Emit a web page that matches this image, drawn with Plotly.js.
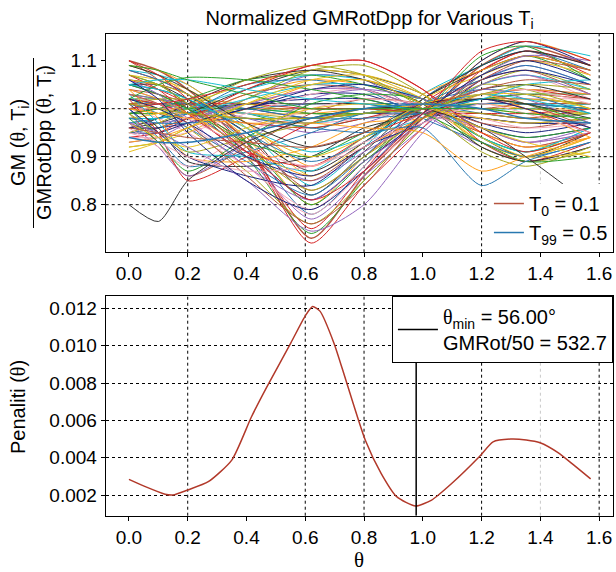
<!DOCTYPE html>
<html>
<head>
<meta charset="utf-8">
<script src="https://cdn.plot.ly/plotly-3.0.1.min.js"></script>
<style>html,body{margin:0;padding:0;background:#fff;}#chart{width:616px;height:572px;}</style>
</head>
<body>
<div id="chart"></div>
<script>
// ---------- data ----------
const thetaT = [0.00, 0.10, 0.20, 0.40, 0.62, 0.80, 1.00, 1.20, 1.35, 1.57];

const normGM = [
  [1.10,1.08,1.04,0.93,0.73,0.86,0.98,1.09,1.13,1.09],
  [1.08,1.06,1.03,0.92,0.75,0.87,1.01,1.08,1.12,1.07],
  [1.07,1.05,1.01,0.90,0.74,0.85,0.97,1.07,1.11,1.06],
  [1.05,1.04,1.02,0.93,0.78,0.88,1.02,1.09,1.12,1.08],
  [1.09,1.07,1.03,0.94,0.80,0.90,0.99,1.10,1.14,1.10],
  [1.04,1.02,0.99,0.90,0.77,0.86,0.96,1.06,1.09,1.05],
  [1.06,1.05,1.02,0.95,0.82,0.91,1.02,1.08,1.11,1.08],
  [1.03,1.01,0.97,0.88,0.79,0.88,0.99,1.07,1.10,1.07],
  [1.08,1.07,1.05,0.96,0.84,0.92,1.03,1.09,1.13,1.11],
  [1.02,1.00,0.96,0.87,0.76,0.85,0.97,1.05,1.08,1.04],
  [1.05,1.03,1.00,0.91,0.81,0.89,0.98,1.10,1.14,1.09],
  [1.07,1.06,1.04,0.97,0.86,0.93,1.02,1.07,1.10,1.07],
  [1.04,1.03,1.01,0.94,0.83,0.90,1.00,1.06,1.08,1.03],
  [1.06,1.04,1.01,0.92,0.72,0.84,0.96,1.08,1.12,1.09],
  [1.03,1.02,1.00,0.93,0.80,0.89,0.99,1.11,1.13,1.06],
  [1.01,0.99,0.96,0.89,0.82,0.90,1.01,1.06,1.09,1.05],
  [1.09,1.08,1.05,0.97,0.88,0.94,1.03,1.08,1.11,1.08],
  [1.02,1.01,0.99,0.92,0.85,0.91,0.98,1.07,1.11,1.10],
  [1.05,1.05,1.03,0.95,0.87,0.93,1.02,1.09,1.12,1.09],
  [1.00,0.98,0.95,0.88,0.78,0.87,0.97,1.05,1.07,1.02],
  [1.01,1.01,1.00,1.00,0.99,0.99,1.00,1.01,1.01,1.01],
  [1.00,1.00,1.00,0.99,0.98,0.99,1.01,1.01,1.02,1.01],
  [1.02,1.01,1.01,1.00,0.98,0.99,0.99,1.02,1.02,1.01],
  [0.99,0.99,0.99,1.00,1.00,1.00,1.00,1.00,0.99,0.99],
  [1.01,1.00,0.99,0.98,0.97,0.99,1.01,1.02,1.03,1.02],
  [1.00,1.00,1.01,1.01,1.00,1.00,0.99,0.99,0.99,1.00],
  [1.02,1.02,1.01,0.99,0.96,0.98,1.00,1.02,1.03,1.03],
  [0.98,0.98,0.99,1.00,1.01,1.01,1.01,0.99,0.98,0.99],
  [1.01,1.01,1.00,0.99,0.99,1.00,1.00,1.01,1.00,1.00],
  [1.03,1.02,1.01,0.98,0.95,0.97,1.01,1.03,1.04,1.03],
  [0.99,1.00,1.00,1.01,1.01,1.01,0.99,0.98,0.97,0.98],
  [1.00,1.00,1.00,0.99,0.97,0.98,1.00,1.01,1.02,1.02],
  [1.02,1.01,1.00,0.99,0.97,0.99,1.01,1.00,1.00,1.01],
  [1.01,1.02,1.02,1.01,0.99,0.99,1.00,1.00,1.00,0.99],
  [0.97,0.98,0.99,1.01,1.02,1.02,0.99,0.98,0.97,0.97],
  [1.00,0.99,0.99,0.98,0.98,0.99,1.01,1.02,1.02,1.01],
  [1.01,1.01,1.01,1.00,1.00,1.00,1.00,1.00,1.01,1.01],
  [1.02,1.01,0.99,0.97,0.96,0.98,1.01,1.03,1.04,1.02],
  [0.99,0.99,1.00,1.00,0.99,0.99,1.00,1.01,1.01,1.00],
  [1.00,1.01,1.01,1.00,0.98,0.98,0.99,1.01,1.01,1.00],
  [0.95,0.96,0.98,1.03,1.06,1.05,1.01,0.93,0.90,0.94],
  [0.93,0.94,0.97,1.02,1.07,1.06,0.99,0.92,0.89,0.92],
  [0.96,0.97,0.99,1.04,1.08,1.07,1.03,0.94,0.90,0.95],
  [0.94,0.95,0.97,1.01,1.04,1.04,1.00,0.95,0.92,0.95],
  [0.97,0.98,1.00,1.04,1.07,1.06,1.02,0.94,0.91,0.96],
  [0.92,0.93,0.96,1.02,1.08,1.09,1.03,0.92,0.89,0.91],
  [0.95,0.95,0.97,1.00,1.03,1.03,0.99,0.96,0.94,0.96],
  [0.98,0.99,1.01,1.05,1.08,1.07,1.02,0.93,0.90,0.94],
  [0.96,0.96,0.98,1.03,1.05,1.04,1.00,0.95,0.92,0.95],
  [0.94,0.95,0.98,1.04,1.09,1.10,1.04,0.93,0.89,0.93],
  [0.99,1.00,1.02,1.06,1.07,1.05,1.01,0.94,0.91,0.95],
  [0.95,0.96,0.99,1.05,1.06,1.04,0.98,0.93,0.90,0.93],
  [0.93,0.94,0.96,1.00,1.05,1.06,1.02,0.95,0.92,0.94],
  [0.97,0.97,0.98,1.01,1.04,1.04,1.00,0.96,0.93,0.96],
  [0.96,0.98,1.01,1.06,1.08,1.06,1.01,0.92,0.89,0.92],
  [0.94,0.94,0.95,0.99,1.03,1.04,0.99,0.96,0.93,0.95],
  [0.98,0.98,0.99,1.02,1.05,1.05,1.02,0.94,0.91,0.96],
  [0.95,0.97,1.00,1.06,1.09,1.07,1.00,0.91,0.88,0.92],
  [0.96,0.96,0.97,1.00,1.04,1.05,1.02,0.97,0.95,0.97],
  [0.92,0.93,0.95,1.01,1.06,1.07,1.03,0.94,0.90,0.91],
  [0.99,0.93,0.86,0.92,0.99,1.02,1.01,0.97,0.96,0.98],
  [1.02,0.95,0.85,0.90,0.97,1.00,0.99,0.99,0.98,1.00],
  [0.98,0.93,0.87,0.94,1.01,1.03,1.02,0.96,0.94,0.96],
  [1.00,0.94,0.88,0.91,0.95,0.99,0.99,1.01,1.01,1.00],
  [1.04,0.98,0.90,0.89,0.92,0.97,0.98,1.03,1.04,1.03],
  [0.97,0.92,0.86,0.93,1.02,1.04,1.02,0.96,0.93,0.95],
  [1.01,0.96,0.89,0.88,0.90,0.96,0.99,1.04,1.05,1.02],
  [0.96,0.92,0.88,0.95,1.00,1.02,1.01,0.98,0.96,0.97],
  [1.03,0.97,0.91,0.90,0.87,0.94,0.98,1.05,1.07,1.04],
  [0.99,0.95,0.91,0.94,0.97,1.00,1.00,0.99,0.98,0.99],
  [1.00,0.95,0.90,0.86,0.84,0.92,0.97,1.06,1.08,1.05],
  [0.97,0.94,0.92,0.96,1.00,1.01,1.00,0.98,0.97,0.98],
  [1.10,1.06,1.00,0.90,0.85,0.92,0.98,1.03,1.01,0.96],
  [1.07,1.04,0.99,0.91,0.88,0.94,0.99,1.02,1.00,0.95],
  [1.05,1.03,1.00,0.93,0.90,0.95,1.00,1.02,1.01,0.97],
  [1.08,1.06,1.03,0.95,0.89,0.93,1.01,1.04,1.03,0.99],
  [1.04,1.02,0.99,0.92,0.86,0.92,0.98,1.03,1.00,0.94],
  [1.06,1.03,0.98,0.88,0.81,0.89,0.97,1.04,1.02,0.97],
  [1.09,1.07,1.04,0.97,0.92,0.95,1.01,1.02,1.01,0.98],
  [1.03,1.01,0.98,0.92,0.88,0.93,0.97,1.01,0.99,0.95],
  [1.05,1.04,1.02,0.96,0.91,0.94,1.00,1.03,1.02,0.99],
  [1.07,1.05,1.01,0.92,0.83,0.90,0.98,1.05,1.04,1.00],
  [1.02,1.00,0.97,0.90,0.86,0.92,0.99,1.02,1.00,0.96],
  [1.06,1.05,1.03,0.96,0.90,0.94,1.01,1.03,1.03,1.00],
  [1.03,1.01,0.97,0.86,0.76,0.84,0.98,1.06,1.10,1.08],
  [1.00,1.01,1.02,1.05,1.09,1.10,1.04,0.95,0.91,0.95],
  [1.02,1.05,1.065,1.06,1.04,1.02,0.99,0.93,0.89,0.90],
  [0.98,0.97,0.97,0.98,0.96,0.95,0.96,0.84,0.89,0.93],
  [1.00,0.99,0.98,0.97,0.97,0.96,0.95,0.87,0.90,0.94],
  [0.97,0.95,0.92,0.85,0.745,0.80,0.95,1.05,1.07,1.03],
  [0.80,0.765,0.85,0.93,0.98,1.00,1.00,0.96,0.90,0.80],
  [0.95,0.93,0.90,0.87,0.88,0.92,0.99,1.03,1.04,1.01],
  [1.05,1.06,1.06,1.04,1.02,1.01,1.00,1.02,1.05,1.06],
  [1.01,1.00,0.99,0.98,0.98,0.99,1.00,1.03,1.05,1.04],
  [1.06,1.02,0.95,0.85,0.79,0.87,0.99,1.07,1.10,1.06],
  [0.91,0.93,0.96,1.01,1.05,1.06,1.01,0.96,0.93,0.90],
  [0.96,0.95,0.94,0.93,0.92,0.95,1.00,1.04,1.06,1.05],
  [1.10,1.07,1.02,0.91,0.81,0.87,0.99,1.12,1.14,1.10],
  [1.09,1.08,1.06,1.03,1.00,1.00,1.00,1.00,0.99,0.98],
  [0.94,0.93,0.93,0.95,0.98,1.00,1.01,1.00,0.98,0.97]
];
const legendPeriods = [0.1, 0.5];   // T0 and T99

const thetaP = [0.0, 0.06, 0.123, 0.15, 0.2, 0.27, 0.35, 0.417, 0.468, 0.551, 0.60, 0.625, 0.65, 0.698, 0.738, 0.804, 0.858, 0.911, 0.9755, 1.03, 1.099, 1.192, 1.239, 1.299, 1.352, 1.399, 1.46, 1.513, 1.571];
const penalty = [0.00284, 0.00242, 0.00204, 0.00200, 0.00227, 0.00271, 0.00387, 0.00619, 0.00775, 0.01015, 0.0116, 0.0121, 0.01185, 0.01012, 0.00816, 0.00495, 0.00316, 0.00191, 0.00141, 0.00173, 0.00263, 0.00405, 0.00485, 0.00500, 0.00495, 0.00480, 0.00427, 0.00361, 0.00286];

const thetaMinDeg = 56.00;
const gmRot50 = 532.7;

// ---------- style ----------
const palette = ['#b5553f','#d62728','#2ca02c','#2878b0','#ff9f1c','#9467bd','#333333','#f4a7b9','#17becf','#a6a81e','#1a237e','#e8c020'];
const FONT = 'Liberation Sans, Arial, sans-serif';
const SERIF = 'Liberation Serif, Times New Roman, serif';
const th = '<span style="font-family:' + SERIF + '">θ</span>';
const xRange = [-0.079, 1.647];
const yTopRange = [0.7008, 1.1556];
const yBotRange = [0.00089, 0.01266];
const gridX = [0.2, 0.6, 0.8, 1.2, 1.6];
const faintGridX = [1.4];
const gridYTop = [0.8, 0.9, 1.0];

const traces = [];
const last = normGM.length - 1;
normGM.forEach((row, i) => {
  const shown = (i === 0 || i === last);
  traces.push({
    x: thetaT, y: row, type: 'scatter', mode: 'lines',
    xaxis: 'x', yaxis: 'y',
    line: {color: palette[i % palette.length], width: shown ? 1.5 : 1, shape: 'spline', smoothing: 0.7},
    name: 'T<sub>' + i + '</sub>' + (shown ? ' = ' + (i === 0 ? legendPeriods[0] : legendPeriods[1]) : ''),
    showlegend: shown, legend: 'legend', hoverinfo: 'skip'
  });
});

const thetaMinRad = thetaMinDeg * Math.PI / 180;
traces.push({
  x: thetaP, y: penalty, type: 'scatter', mode: 'lines',
  xaxis: 'x2', yaxis: 'y2', line: {color: '#b2392a', width: 1.5, shape: 'spline', smoothing: 0.6},
  name: 'Penalty', showlegend: false, hoverinfo: 'skip'
});
traces.push({
  x: [thetaMinRad, thetaMinRad], y: yBotRange, type: 'scatter', mode: 'lines',
  xaxis: 'x2', yaxis: 'y2', line: {color: '#000', width: 1.5},
  name: th + '<sub>min</sub> = ' + thetaMinDeg.toFixed(2) + '°<br>GMRot/50 = ' + gmRot50.toFixed(1),
  showlegend: true, legend: 'legend2', hoverinfo: 'skip'
});

const shapes = [];
['x', 'x2'].forEach((xr, k) => {
  const yr = k === 0 ? 'y domain' : 'y2 domain';
  gridX.forEach(v => shapes.push({type: 'line', xref: xr, yref: yr, x0: v, x1: v, y0: 0, y1: 1, layer: 'below', line: {color: '#000', width: 1, dash: 'dot'}}));
  faintGridX.forEach(v => shapes.push({type: 'line', xref: xr, yref: yr, x0: v, x1: v, y0: 0, y1: 1, layer: 'below', line: {color: '#c8c8c8', width: 1, dash: 'dot'}}));
});
gridYTop.forEach(v => shapes.push({type: 'line', xref: 'x domain', yref: 'y', x0: 0, x1: 1, y0: v, y1: v, layer: 'below', line: {color: '#000', width: 1, dash: 'dot'}}));
// fraction bar of the top y title
shapes.push({type: 'line', xref: 'paper', yref: 'paper', x0: 0.0544, x1: 0.0544, y0: 0.6014, y1: 0.8986, line: {color: '#000', width: 1}});

const axisCommon = {
  showline: true, mirror: true, linecolor: '#000', linewidth: 1,
  ticks: 'outside', ticklen: 4, tickcolor: '#000', tickwidth: 1,
  tickfont: {family: FONT, size: 19, color: '#000'},
  zeroline: false, automargin: false
};

const layout = {
  width: 616, height: 572, autosize: false,
  margin: {l: 0, r: 0, t: 0, b: 0},
  paper_bgcolor: '#fff', plot_bgcolor: '#fff',
  font: {family: FONT, size: 19, color: '#000'},
  title: {text: 'Normalized GMRotDpp for Various T<sub>i</sub>', x: 0.6, xanchor: 'center', xref: 'paper', y: 0.9685, yanchor: 'middle', yref: 'paper', font: {family: FONT, size: 20, color: '#000'}},
  xaxis: Object.assign({}, axisCommon, {domain: [0.1716, 0.9951], range: xRange, anchor: 'y', tickmode: 'linear', tick0: 0, dtick: 0.2, tickformat: '.1f', showgrid: false}),
  yaxis: Object.assign({}, axisCommon, {domain: [0.5589, 0.9406], range: yTopRange, anchor: 'x', tickmode: 'linear', tick0: 0.8, dtick: 0.1, tickformat: '.1f', showgrid: false}),
  xaxis2: Object.assign({}, axisCommon, {domain: [0.1716, 0.9951], range: xRange, anchor: 'y2', tickmode: 'linear', tick0: 0, dtick: 0.2, tickformat: '.1f', showgrid: false}),
  yaxis2: Object.assign({}, axisCommon, {domain: [0.0984, 0.4825], range: yBotRange, anchor: 'x2', tickmode: 'linear', tick0: 0.002, dtick: 0.002, tickformat: '.3f', showgrid: true, gridcolor: '#000', griddash: 'dot', gridwidth: 1}),
  legend: {x: 0.995, xanchor: 'right', y: 0.5594, yanchor: 'bottom', bgcolor: '#fff', borderwidth: 0, font: {family: FONT, size: 20, color: '#000'}, traceorder: 'normal'},
  legend2: {x: 0.995, xanchor: 'right', y: 0.4825, yanchor: 'top', bgcolor: '#fff', bordercolor: '#000', borderwidth: 1, itemwidth: 40, font: {family: FONT, size: 20, color: '#000'}},
  shapes: shapes,
  annotations: [
    {text: 'GM (' + th + ', T<sub>i</sub>)', xref: 'paper', yref: 'paper', x: 0.0308, y: 0.7517, textangle: -90, showarrow: false, xanchor: 'center', yanchor: 'middle', font: {family: FONT, size: 20, color: '#000'}},
    {text: 'GMRotDpp (' + th + ', T<sub>i</sub>)', xref: 'paper', yref: 'paper', x: 0.073, y: 0.7517, textangle: -90, showarrow: false, xanchor: 'center', yanchor: 'middle', font: {family: FONT, size: 20, color: '#000'}},
    {text: 'Penaliti (' + th + ')', xref: 'paper', yref: 'paper', x: 0.0292, y: 0.2885, textangle: -90, showarrow: false, xanchor: 'center', yanchor: 'middle', font: {family: FONT, size: 20, color: '#000'}},
    {text: 'θ', xref: 'paper', yref: 'paper', x: 0.583, y: 0.021, showarrow: false, xanchor: 'center', yanchor: 'middle', font: {family: SERIF, size: 21, color: '#000'}}
  ]
};

Plotly.newPlot('chart', traces, layout, {displayModeBar: false, staticPlot: true});
</script>
</body>
</html>
